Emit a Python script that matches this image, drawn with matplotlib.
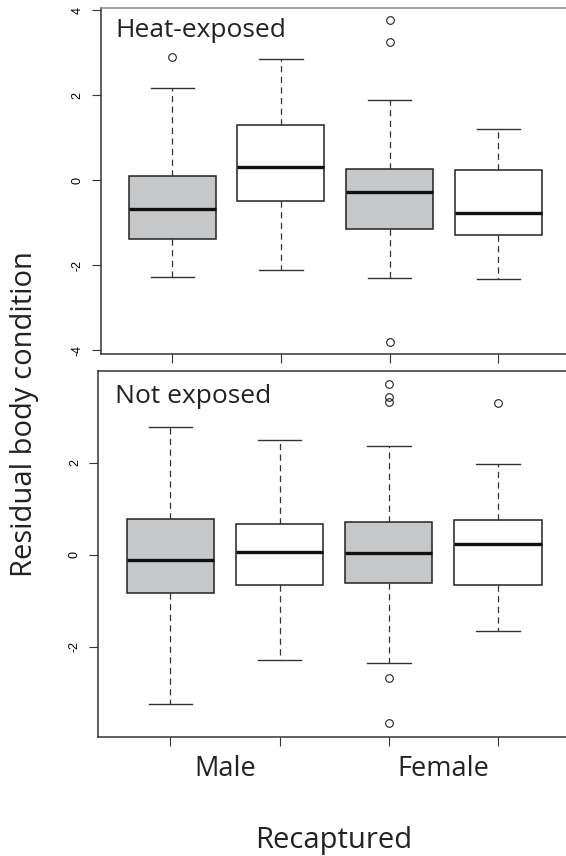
import matplotlib
matplotlib.use("Agg")
import matplotlib.pyplot as plt

# --- data (R-style boxplot stats) ---
groups = ["Male", "Female"]
fills = ["#c6c7c9", "white", "#c6c7c9", "white"]

# Heat-exposed
heat_whislo = [-2.27, -2.11, -2.31, -2.33]
heat_q1 = [-1.38, -0.49, -1.15, -1.28]
heat_med = [-0.67, 0.32, -0.27, -0.78]
heat_q3 = [0.10, 1.29, 0.27, 0.24]
heat_whishi = [2.16, 2.84, 1.88, 1.20]
heat_fliers = [[2.89], [], [3.76, 3.25, -3.80], []]

# Not exposed
ctrl_whislo = [-3.24, -2.30, -2.35, -1.66]
ctrl_q1 = [-0.83, -0.67, -0.62, -0.67]
ctrl_med = [-0.11, 0.05, 0.03, 0.23]
ctrl_q3 = [0.78, 0.67, 0.70, 0.75]
ctrl_whishi = [2.78, 2.49, 2.36, 1.97]
ctrl_fliers = [[], [], [3.70, 3.42, 3.31, -2.68, -3.67], [3.29]]

TEXT_FONT = ["Open Sans", "DejaVu Sans"]
TICK_FONT = ["Liberation Sans", "DejaVu Sans"]


def make_stats(lo, q1, med, q3, hi, fl):
    return [dict(whislo=lo[i], q1=q1[i], med=med[i], q3=q3[i], whishi=hi[i],
                 fliers=fl[i]) for i in range(len(med))]


def draw_panel(ax, stats, title, ylim, yticks, title_pos):
    bp = ax.bxp(stats, positions=[1, 2, 3, 4], widths=0.8, patch_artist=True,
                boxprops=dict(edgecolor="#222222", linewidth=1.1),
                medianprops=dict(color="#111111", linewidth=2.4),
                whiskerprops=dict(color="#333333", linewidth=0.9, linestyle=(0, (5, 3.5))),
                capprops=dict(color="#333333", linewidth=1.0),
                flierprops=dict(marker="o", markerfacecolor="none",
                                markeredgecolor="#222222", markersize=5.5,
                                markeredgewidth=0.8))
    for patch, c in zip(bp["boxes"], fills):
        patch.set_facecolor(c)

    ax.set_xlim(0.34, 4.66)
    ax.set_ylim(*ylim)
    ax.set_yticks(yticks)
    ax.set_yticklabels([str(t) for t in yticks], family=TICK_FONT, fontsize=9,
                       rotation=90, va="center")
    ax.set_xticks([1, 2, 3, 4])
    ax.set_xticklabels([])
    ax.tick_params(axis="both", length=6.5, width=0.8, color="#333333", pad=6)
    for s in ["left", "bottom", "top"]:
        ax.spines[s].set_color("#333333")
        ax.spines[s].set_linewidth(1.1)
    ax.spines["right"].set_visible(False)   # runs off the page in the original
    ax.text(title_pos[0], title_pos[1], title, transform=ax.transAxes,
            family=TEXT_FONT, fontsize=19, color="#222222", va="baseline")


fig = plt.figure(figsize=(5.66, 8.56), dpi=100)

ax1 = fig.add_axes([0.1777, 0.5864, 0.8293, 0.4039])
draw_panel(ax1, make_stats(heat_whislo, heat_q1, heat_med, heat_q3, heat_whishi, heat_fliers),
           "Heat-exposed", (-4.09, 4.04), [-4, -2, 0, 2, 4], (0.031, 0.917))
ax1.spines["top"].set_color("#888888")

ax2 = fig.add_axes([0.1737, 0.1387, 0.8333, 0.4283])
draw_panel(ax2, make_stats(ctrl_whislo, ctrl_q1, ctrl_med, ctrl_q3, ctrl_whishi, ctrl_fliers),
           "Not exposed", (-3.97, 4.0), [-2, 0, 2], (0.035, 0.912))
ax2.set_xticks([1.5, 3.5], minor=True)
ax2.set_xticklabels(groups, minor=True, family=TEXT_FONT, fontsize=19.5, color="#222222")
ax2.tick_params(axis="x", which="minor", length=0, pad=13)

fig.text(0.590, 1 - 848 / 856, "Recaptured", family=TEXT_FONT, fontsize=21,
         color="#222222", ha="center", va="baseline")
fig.text(25 / 566, 1 - 577 / 856, "Residual body condition", family=TEXT_FONT,
         fontsize=21, color="#222222", rotation=90, ha="center", va="bottom")

fig.savefig("out.png", dpi=100)
